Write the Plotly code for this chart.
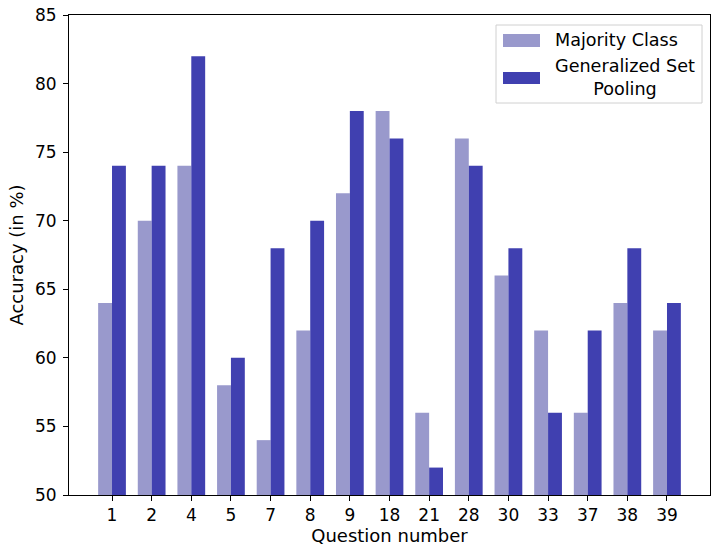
import plotly.graph_objects as go

questions = ["1", "2", "4", "5", "7", "8", "9", "18", "21", "28", "30", "33", "37", "38", "39"]
majority = [64, 70, 74, 58, 54, 62, 72, 78, 56, 76, 66, 62, 56, 64, 62]
gsp = [74, 74, 82, 60, 68, 70, 78, 76, 52, 74, 68, 56, 62, 68, 64]

names = ["Majority Class", "Generalized Set<br>Pooling"]
colors = ["#9999cc", "#4040b0"]

idx = list(range(len(questions)))
w = 0.35

W, H = 711, 549
L, R, T, B = 69, 1, 15, 54
pw, ph = W - L - R, H - T - B


def px(x):
    return (x - L) / pw


def py(y):
    return (H - B - y) / ph


fig = go.Figure()
fig.add_trace(go.Bar(x=idx, y=[v - 50 for v in majority], base=50, width=w, offset=-w,
                     marker=dict(color=colors[0], line=dict(width=0)), name=names[0],
                     showlegend=False))
fig.add_trace(go.Bar(x=idx, y=[v - 50 for v in gsp], base=50, width=w, offset=0,
                     marker=dict(color=colors[1], line=dict(width=0)), name=names[1],
                     showlegend=False))

font = dict(family="DejaVu Sans", size=17, color="black")
lfont = dict(family="DejaVu Sans", size=17.6, color="black")
tfont = dict(family="DejaVu Sans", size=18, color="black")

# legend drawn as shapes + annotations
shapes = [dict(type="rect", xref="paper", yref="paper", x0=px(496), x1=px(702),
               y0=py(103), y1=py(25), line=dict(color="#d0d0d0", width=1),
               fillcolor="rgba(255,255,255,0.8)", layer="above")]
shapes.append(dict(type="rect", xref="paper", yref="paper", x0=px(503), x1=px(540),
                   y0=py(47), y1=py(34), line=dict(width=0), fillcolor=colors[0], layer="above"))
shapes.append(dict(type="rect", xref="paper", yref="paper", x0=px(503), x1=px(540),
                   y0=py(84), y1=py(72), line=dict(width=0), fillcolor=colors[1], layer="above"))
annotations = [
    dict(xref="paper", yref="paper", x=px(553), y=py(40), text=names[0], showarrow=False,
         xanchor="left", yanchor="middle", font=lfont),
    dict(xref="paper", yref="paper", x=px(625), y=py(77), text=names[1], showarrow=False,
         xanchor="center", yanchor="middle", align="center", font=lfont),
]

fig.update_layout(
    width=W, height=H,
    margin=dict(l=L, r=R, t=T, b=B),
    plot_bgcolor="white", paper_bgcolor="white",
    font=font,
    showlegend=False,
    shapes=shapes,
    annotations=annotations,
    xaxis=dict(range=[-1.085, 15.085], tickvals=idx, ticktext=questions,
               ticks="outside", ticklen=5, tickcolor="black", showgrid=False,
               showline=True, linecolor="black", mirror=True, linewidth=1,
               automargin=False, tickfont=font,
               title=dict(text="Question number", standoff=1, font=tfont),
               zeroline=False),
    yaxis=dict(range=[50, 85], tickvals=[50, 55, 60, 65, 70, 75, 80, 85],
               ticks="outside", ticklen=5, tickcolor="black", showgrid=False,
               showline=True, linecolor="black", mirror=True, linewidth=1,
               automargin=False, tickfont=font, ticklabelstandoff=3,
               title=dict(text="Accuracy (in %)", standoff=6, font=tfont),
               zeroline=False),
)
fig.write_html("out.html", config={"displayModeBar": False},
               post_script="document.body.style.margin='0';document.body.style.overflow='hidden';")
